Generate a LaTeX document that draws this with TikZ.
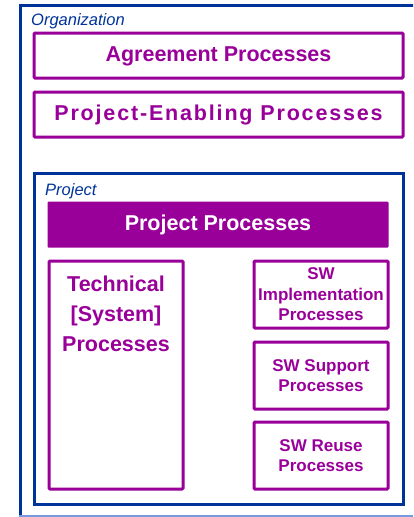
\documentclass[tikz,border=0pt]{standalone}
\usepackage{fontspec}
\setmainfont{Liberation Sans}
\definecolor{purp}{HTML}{990099}
\definecolor{dblue}{HTML}{003399}
\definecolor{lblue}{HTML}{7799DD}
\begin{document}
\begin{tikzpicture}[x=1pt,y=-1pt,
  orgbox/.style={draw=dblue,line width=3pt},
  pbox/.style={draw=purp,line width=3pt,rounded corners=1pt},
  ptext/.style={text=purp,font=\bfseries\fontsize{17}{20.5}\selectfont,align=center},
  bigtext/.style={text=purp,font=\bfseries\fontsize{21.5}{30}\selectfont,align=center},
  lbl/.style={text=dblue,font=\itshape\fontsize{16.5}{18}\selectfont,anchor=base west,inner sep=0pt}]
\useasboundingbox (0,0) rectangle (413,517);
\begin{scope}
\clip (0,0) rectangle (413,517);
\draw[orgbox] (20,5) -- (430,5);
\draw[orgbox] (20,3.5) -- (20,530);
\draw[lblue,line width=1.2pt] (19,516) -- (430,516);
\end{scope}
\node[lbl] (orglbl) at (31,25) {Organization};
\draw[pbox] (34,33) rectangle (403,78);
\node[bigtext] (agr) at (218.5,56) {Agreement Processes};
\draw[pbox] (34,92) rectangle (403,137);
\node[bigtext] (pen) at (218.5,115) {\addfontfeature{LetterSpace=8.5}Project-Enabling Processes};
\draw[orgbox] (34,173) rectangle (403,504);
\node[lbl] (projlbl) at (45,195) {Project};
\fill[purp,rounded corners=1pt] (47.5,201.5) rectangle (388.5,247.5);
\node[bigtext,text=white] (pp) at (218,225) {Project Processes};
\draw[pbox] (49,261) rectangle (183,489);
\node[bigtext,anchor=north] (tech) at (116,272) {Technical\\\relax[System]\\Processes};
\draw[pbox] (254,261) rectangle (388,328);
\node[ptext] (impl) at (321,294.5) {SW\\Implementation\\Processes};
\draw[pbox] (254,342) rectangle (388,409);
\node[ptext] (sup) at (321,375.5) {SW Support\\Processes};
\draw[pbox] (254,422) rectangle (388,489);
\node[ptext] (reuse) at (321,455.5) {SW Reuse\\Processes};
\end{tikzpicture}
\end{document}
